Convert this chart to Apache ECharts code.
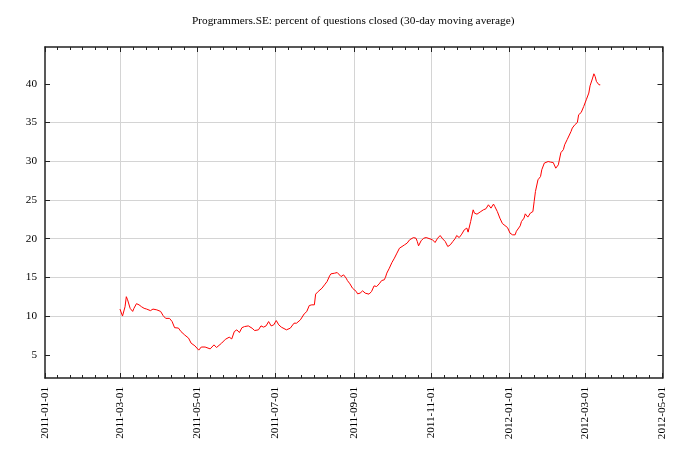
<!DOCTYPE html>
<html><head><meta charset="utf-8">
<script src="https://cdn.jsdelivr.net/npm/echarts@6/dist/echarts.min.js"></script>
<style>html,body{margin:0;padding:0;background:#fff}#c{width:683px;height:468px}</style>
</head><body><div id="c"></div>
<script>
const chartTitle = 'Programmers.SE: percent of questions closed (30-day moving average)';
const dates = [
'2011-03-01','2011-03-03','2011-03-05','2011-03-06','2011-03-07','2011-03-09','2011-03-11','2011-03-12','2011-03-14','2011-03-16',
'2011-03-18','2011-03-20','2011-03-22','2011-03-25','2011-03-27','2011-03-30','2011-04-02','2011-04-04','2011-04-06','2011-04-09',
'2011-04-11','2011-04-13','2011-04-16','2011-04-18','2011-04-21','2011-04-24','2011-04-26','2011-04-29','2011-05-02','2011-05-04',
'2011-05-07','2011-05-11','2011-05-14','2011-05-16','2011-05-20','2011-05-23','2011-05-26','2011-05-28','2011-05-30','2011-06-01',
'2011-06-03','2011-06-05','2011-06-07','2011-06-10','2011-06-13','2011-06-15','2011-06-18','2011-06-20','2011-06-22','2011-06-24',
'2011-06-26','2011-06-28','2011-06-30','2011-07-02','2011-07-04','2011-07-06','2011-07-07','2011-07-10','2011-07-13','2011-07-16',
'2011-07-18','2011-07-21','2011-07-24','2011-07-26','2011-07-28','2011-07-30','2011-08-01','2011-08-02','2011-08-04','2011-08-07',
'2011-08-09','2011-08-11','2011-08-13','2011-08-14','2011-08-17','2011-08-19','2011-08-20','2011-08-22','2011-08-24','2011-08-26',
'2011-08-27','2011-08-29','2011-08-31','2011-09-03','2011-09-04','2011-09-06','2011-09-08','2011-09-10','2011-09-11','2011-09-13',
'2011-09-15','2011-09-17','2011-09-19','2011-09-21','2011-09-23','2011-09-25','2011-09-26','2011-09-27','2011-09-29','2011-10-01',
'2011-10-02','2011-10-03','2011-10-05','2011-10-07','2011-10-09','2011-10-11','2011-10-13','2011-10-15','2011-10-18','2011-10-20',
'2011-10-21','2011-10-22','2011-10-24','2011-10-26','2011-10-28','2011-10-31','2011-11-02','2011-11-04','2011-11-06','2011-11-08',
'2011-11-10','2011-11-12','2011-11-14','2011-11-16','2011-11-18','2011-11-20','2011-11-21','2011-11-23','2011-11-25','2011-11-27',
'2011-11-29','2011-11-30','2011-12-02','2011-12-04','2011-12-05','2011-12-07','2011-12-10','2011-12-12','2011-12-14','2011-12-16',
'2011-12-18','2011-12-20','2011-12-21','2011-12-23','2011-12-25','2011-12-27','2011-12-29','2011-12-31','2012-01-02','2012-01-04',
'2012-01-06','2012-01-07','2012-01-10','2012-01-11','2012-01-13','2012-01-14','2012-01-16','2012-01-18','2012-01-20','2012-01-21',
'2012-01-22','2012-01-24','2012-01-26','2012-01-27','2012-01-29','2012-01-30','2012-02-01','2012-02-03','2012-02-04','2012-02-05',
'2012-02-07','2012-02-08','2012-02-09','2012-02-11','2012-02-13','2012-02-14','2012-02-16','2012-02-17','2012-02-19','2012-02-20',
'2012-02-22','2012-02-24','2012-02-25','2012-02-27','2012-02-29','2012-03-02','2012-03-04','2012-03-05','2012-03-07','2012-03-08',
'2012-03-09','2012-03-10','2012-03-12','2012-03-13'
];
const values = [
10.9,10.0,11.2,12.5,12.1,11.0,10.6,11.0,11.6,11.45,
11.2,11.0,10.9,10.7,10.9,10.8,10.6,10.05,9.7,9.7,
9.3,8.5,8.45,8.0,7.55,7.15,6.5,6.15,5.6,6.0,
6.0,5.76,6.28,5.94,6.5,7.0,7.27,7.05,8.0,8.22,
7.87,8.5,8.64,8.73,8.43,8.13,8.22,8.73,8.57,8.73,
9.29,8.73,8.86,9.42,8.86,8.57,8.43,8.22,8.43,9.08,
9.08,9.51,10.28,10.58,11.36,11.45,11.45,12.83,13.17,13.6,
14.03,14.46,15.19,15.45,15.54,15.62,15.45,15.1,15.32,14.9,
14.59,14.16,13.6,13.17,12.87,12.96,13.26,12.96,12.74,12.83,
13.17,13.9,13.81,14.16,14.59,14.68,15.02,15.54,16.18,16.9,
17.1,17.48,18.13,18.77,18.98,19.2,19.42,19.85,20.14,20.05,
19.63,19.07,19.72,20.05,20.14,19.97,19.85,19.5,20.05,20.4,
19.97,19.63,18.98,19.2,19.63,20.05,20.4,20.14,20.58,21.14,
21.36,20.84,22.21,23.72,23.29,23.16,23.5,23.72,23.85,24.37,
23.94,24.46,24.15,23.5,22.65,21.95,21.69,21.43,20.71,20.49,
20.49,20.95,21.65,22.21,22.65,23.2,22.78,23.3,23.5,24.8,
26.09,27.6,28.02,28.9,29.76,29.76,29.96,29.88,30.09,29.83,
29.1,28.98,29.53,31.1,31.5,32.12,32.8,32.98,33.84,34.28,
34.71,35.0,36.0,36.29,37.07,37.93,38.8,39.74,40.74,41.29,
40.94,40.3,39.87,39.87
];
const xTickLabels = ['2011-01-01','2011-03-01','2011-05-01','2011-07-01','2011-09-01','2011-11-01','2012-01-01','2012-03-01','2012-05-01'];
const yTickValues = [5,10,15,20,25,30,35,40];
const yMin = 2, yMax = 44.75;

const ts = s => { const p = s.split('-').map(Number); return Date.UTC(p[0], p[1] - 1, p[2]); };
const fmt = v => { const d = new Date(v); const z = n => String(n).padStart(2, '0'); return d.getUTCFullYear() + '-' + z(d.getUTCMonth() + 1) + '-' + z(d.getUTCDate()); };
const majorTs = xTickLabels.map(ts);
const minorTs = [];
for (let i = 0; i < majorTs.length - 1; i++) {
  for (let k = 1; k < 6; k++) minorTs.push(majorTs[i] + (majorTs[i + 1] - majorTs[i]) * k / 6);
}
const xMin = majorTs[0], xMax = majorTs[majorTs.length - 1];
const FONT = '"Liberation Serif", "DejaVu Serif", serif';
const dark = '#222';
const gridCol = '#d4d4d4';

function xAx(pos, ticks, len, withLabels, split, line) {
  return {
    type: 'value', position: pos, min: xMin, max: xMax, gridIndex: 0, scale: true,
    axisLine: { show: line, lineStyle: { color: dark, width: 1.5 } },
    axisTick: { show: true, inside: true, length: len, customValues: ticks, lineStyle: { color: dark, width: 1 } },
    axisLabel: withLabels ? {
      show: true, customValues: majorTs, rotate: 90, margin: 9,
      fontFamily: FONT, fontSize: 11.2, color: '#000',
      formatter: v => fmt(v)
    } : { show: false },
    splitLine: { show: split, showMinLine: false, showMaxLine: false, lineStyle: { color: gridCol, width: 1 } }
  };
}
function yAx(pos, withLabels, split) {
  return {
    type: 'value', position: pos, min: yMin, max: yMax, gridIndex: 0,
    axisLine: { show: true, lineStyle: { color: dark, width: 1.5 } },
    axisTick: { show: true, inside: true, length: 5, customValues: yTickValues, lineStyle: { color: dark, width: 1 } },
    axisLabel: withLabels ? { show: true, customValues: yTickValues, margin: 8, fontFamily: FONT, fontSize: 11.2, color: '#000' } : { show: false },
    splitLine: { show: split, showMinLine: false, showMaxLine: false, lineStyle: { color: gridCol, width: 1 } }
  };
}

const chart = echarts.init(document.getElementById('c'), null, { renderer: 'canvas' });
chart.setOption({
  animation: false,
  backgroundColor: '#fff',
  title: {
    text: chartTitle, left: 187, top: 11,
    textStyle: { fontFamily: FONT, fontSize: 11.3, fontWeight: 'normal', color: '#000' }
  },
  grid: { left: 45, right: 20.5, top: 47, bottom: 90, show: false },
  xAxis: [
    xAx('bottom', majorTs, 5, true, true, true),
    xAx('bottom', minorTs, 3, false, false, false),
    xAx('top', majorTs, 5, false, false, true),
    xAx('top', minorTs, 3, false, false, false)
  ],
  yAxis: [
    yAx('left', true, true),
    yAx('right', false, false)
  ],
  series: [{
    type: 'line', xAxisIndex: 0, yAxisIndex: 0,
    data: dates.map((d, i) => [ts(d), values[i]]),
    showSymbol: false, symbol: 'none',
    lineStyle: { color: '#ff0000', width: 1 },
    z: 5
  }]
});
</script></body></html>
